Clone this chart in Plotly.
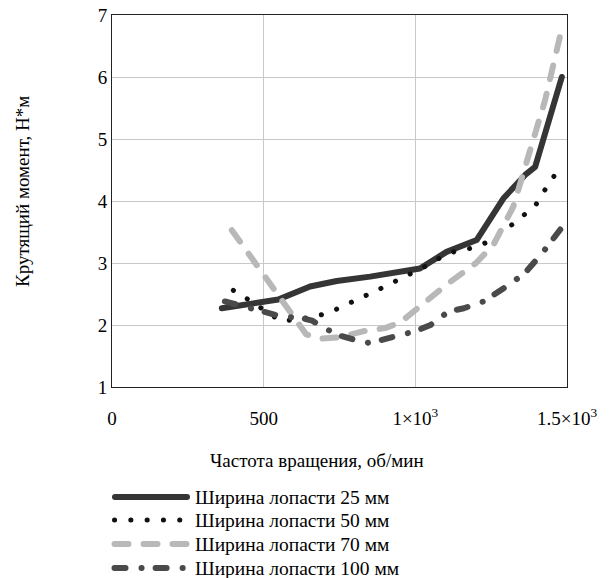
import plotly.graph_objects as go

# ---- data ----
x_25 = [362, 450, 548, 653, 741, 851, 950, 1015, 1103, 1202, 1290, 1362, 1395, 1483]
y_25 = [2.27, 2.34, 2.41, 2.62, 2.71, 2.78, 2.86, 2.91, 3.18, 3.37, 4.04, 4.42, 4.55, 6.0]

x_50 = [400, 453, 557, 611, 664, 716, 768, 821, 874, 926, 979, 1031, 1084, 1136, 1189,
        1244, 1296, 1347, 1395, 1422, 1452, 1480]
y_50 = [2.56, 2.40, 2.06, 2.10, 2.13, 2.20, 2.31, 2.44, 2.56, 2.68, 2.80, 2.94, 3.09, 3.20, 3.24,
        3.35, 3.53, 3.72, 3.92, 4.14, 4.35, 4.57]

x_70 = [395, 480, 540, 590, 640, 690, 750, 830, 900, 950, 1000, 1100, 1200, 1257, 1323, 1378, 1428, 1478]
y_70 = [3.53, 2.95, 2.55, 2.18, 1.85, 1.78, 1.80, 1.90, 1.95, 2.04, 2.25, 2.64, 3.0, 3.29, 3.91, 4.77, 5.63, 6.68]

x_100 = [372, 430, 500, 565, 620, 660, 700, 750, 800, 840, 890, 950, 1000, 1050, 1110, 1160,
         1225, 1300, 1360, 1420, 1481]
y_100 = [2.38, 2.31, 2.23, 2.13, 2.12, 2.07, 1.95, 1.83, 1.76, 1.71, 1.76, 1.84, 1.90, 2.00, 2.22, 2.27,
         2.38, 2.62, 2.83, 3.17, 3.56]

series_names = ["Ширина лопасти 25 мм", "Ширина лопасти 50 мм",
                "Ширина лопасти 70 мм", "Ширина лопасти 100 мм"]
x_tickvals = [0, 500, 1000, 1500]
x_ticktext = ["0", "500", "1×10<sup>3</sup>", "1.5×10<sup>3</sup>"]
y_tickvals = [1, 2, 3, 4, 5, 6, 7]

x_title = "Частота вращения, об/мин"
y_title = "Крутящий момент, Н*м"

# ---- styles ----
styles = [
    dict(color="#353535", width=6, dash="solid"),
    dict(color="#111111", width=5, dash="0.1px,16.2px"),
    dict(color="#b8b8b8", width=6, dash="14px,15px"),
    dict(color="#4a4a4a", width=6, dash="11px,16px,0.1px,14px"),
]
legend_ends = [187, 180, 187, 186]

FONT = "Liberation Serif, Times New Roman, serif"
FS = 19
W, H = 609, 578
L, R, T, B = 112, 42, 15, 191
PW, PH = W - L - R, H - T - B

fig = go.Figure()
for xs, ys, name, st in zip([x_25, x_50, x_70, x_100], [y_25, y_50, y_70, y_100], series_names, styles):
    fig.add_trace(go.Scatter(x=xs, y=ys, mode="lines", name=name, line=st, showlegend=False,
                             hoverinfo="skip"))

def px_x(px):
    return (px - L) / PW

def px_y(py):
    return (H - B - py) / PH

# manual legend (long line samples as in the reference)
rows = [497, 520, 544, 568]
for name, st, ry, xe in zip(series_names, styles, rows, legend_ends):
    x0 = 114.5 if st["dash"] != "solid" else 115
    fig.add_shape(type="line", xref="paper", yref="paper",
                  x0=px_x(x0), x1=px_x(xe), y0=px_y(ry), y1=px_y(ry),
                  line=st)
    fig.add_annotation(xref="paper", yref="paper", x=px_x(193), y=px_y(ry),
                       text=name, showarrow=False, xanchor="left", yanchor="middle",
                       font=dict(family=FONT, size=19.5, color="#000"))

fig.add_annotation(xref="paper", yref="paper", x=px_x(317), y=px_y(460),
                   text=x_title, showarrow=False, xanchor="center", yanchor="middle",
                   font=dict(family=FONT, size=FS, color="#000"))
fig.add_annotation(xref="paper", yref="paper", x=px_x(22), y=px_y(192),
                   text=y_title, showarrow=False, textangle=-90, xanchor="center", yanchor="middle",
                   font=dict(family=FONT, size=FS, color="#000"))

fig.update_layout(
    width=W, height=H,
    margin=dict(l=L, r=R, t=T, b=B, autoexpand=False),
    paper_bgcolor="white", plot_bgcolor="white",
    font=dict(family=FONT, size=FS, color="#000"),
    showlegend=False,
)
fig.update_xaxes(range=[0, 1500], tickvals=x_tickvals, ticktext=x_ticktext,
                 showgrid=True, gridcolor="#c8c8c8", gridwidth=1,
                 showline=True, linecolor="#222", linewidth=1, mirror=True,
                 ticks="outside", ticklen=14, tickcolor="rgba(0,0,0,0)",
                 zeroline=False, automargin=False, tickfont=dict(family=FONT, size=FS))
fig.update_yaxes(range=[1, 7], tickvals=y_tickvals,
                 showgrid=True, gridcolor="#c8c8c8", gridwidth=1,
                 showline=True, linecolor="#222", linewidth=1, mirror=True,
                 ticks="", zeroline=False, automargin=False,
                 tickfont=dict(family=FONT, size=FS))

post = """
(function(){
  document.body.style.margin='0';
  document.body.style.padding='0';
  function rc(){
    document.querySelectorAll('path.js-line, .shapelayer path').forEach(function(p){
      p.style.strokeLinecap='round'; p.style.strokeLinejoin='round';
    });
  }
  rc(); setTimeout(rc, 0); setTimeout(rc, 100); setTimeout(rc, 400);
  var gd=document.getElementById('{plot_id}');
  if(gd && gd.on){ gd.on('plotly_afterplot', rc); }
})();
"""
fig.write_html("out.html", post_script=post, config={"displayModeBar": False})
